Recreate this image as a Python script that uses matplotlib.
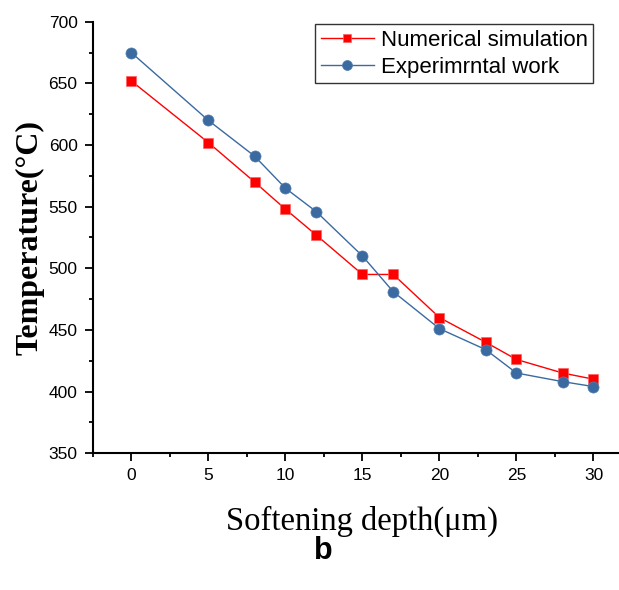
import matplotlib
matplotlib.use("Agg")
import matplotlib.pyplot as plt
from matplotlib.ticker import MultipleLocator

# Data
depth = [0, 5, 8, 10, 12, 15, 17, 20, 23, 25, 28, 30]
numerical = [652, 602, 570, 548, 527, 495, 495, 460, 440, 426, 415, 410]
experimental = [675, 620, 591, 565, 546, 510, 481, 451, 434, 415, 408, 404]

fig = plt.figure(figsize=(6.19, 5.9), dpi=100)
ax = fig.add_axes([0.150, 0.232, 0.871, 0.731])

ax.plot(depth, numerical, color="#ff0000", lw=1, marker="s", ms=6.7,
        mec="#ff6060", mew=0.5, label="Numerical simulation")
ax.plot(depth, experimental, color="#3a6aa0", lw=1, marker="o", ms=8,
        mec="#5580b0", mew=0.5, label="Experimrntal work")

ax.set_xlim(-2.5, 32.5)
ax.set_ylim(350, 700)
ax.xaxis.set_major_locator(MultipleLocator(5))
ax.xaxis.set_minor_locator(MultipleLocator(2.5))
ax.yaxis.set_major_locator(MultipleLocator(50))
ax.yaxis.set_minor_locator(MultipleLocator(25))
for s in ("top", "right"):
    ax.spines[s].set_visible(False)
for s in ("left", "bottom"):
    ax.spines[s].set_linewidth(1.5)
ax.tick_params(which="major", direction="out", length=6, width=1.3,
               labelsize=12.5, pad=5)
ax.tick_params(which="minor", direction="out", length=3, width=1.3)
for lab in ax.get_xticklabels() + ax.get_yticklabels():
    lab.set_family("Liberation Sans")

ax.set_xlabel("Softening depth(\u03bcm)", family="Liberation Serif",
              fontsize=23.5, labelpad=16)
ax.set_ylabel("Temperature(\u00b0C)", family="Liberation Serif",
              fontsize=23, fontweight="bold", labelpad=3)

leg = ax.legend(loc="upper left", bbox_to_anchor=(0.412, 0.995),
                prop={"family": "Liberation Sans", "size": 16},
                frameon=True, fancybox=False, edgecolor="black",
                borderaxespad=0, handlelength=2.4, borderpad=0.25,
                labelspacing=0.28, handletextpad=0.3, markerscale=0.9)
leg.get_frame().set_linewidth(1)

fig.text(0.523, 0.066, "b", ha="center", va="center",
         family="Liberation Sans", fontweight="bold", fontsize=22)

fig.savefig("out.png", dpi=100)
